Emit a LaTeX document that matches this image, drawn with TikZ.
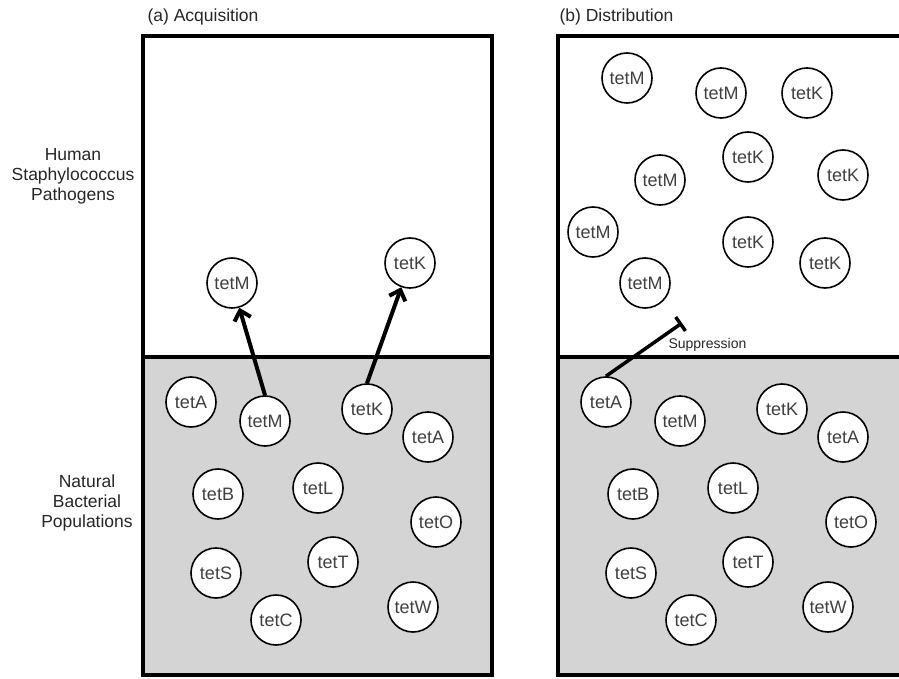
\documentclass[tikz,border=0pt]{standalone}
\usepackage{fontspec}
\setmainfont{Liberation Sans}
\usetikzlibrary{arrows.meta}
\definecolor{soilgray}{RGB}{212,212,212}
\definecolor{genetext}{RGB}{64,64,64}
\tikzset{
  gene/.style = {circle, draw, line width=1.6pt, fill=white, minimum size=50pt,
    inner sep=0pt, text=genetext, font=\fontsize{18}{20}\selectfont},
  side/.style = {align=center, text=black!85, font=\fontsize{17.5}{20}\selectfont},
  transfer/.style = {line width=4pt, -{Straight Barb[length=9pt,width=17pt]}}
}
% one panel: white pathogen half over the grey environmental half
\newcommand{\panel}{\fill[soilgray] (143,357) rectangle (492,675);
\draw[line width=3.5pt] (143,36) rectangle (492,675);
\draw[line width=3.5pt] (143,357) -- (492,357);}
% resistance genes found in the natural populations
\newcommand{\wildgenes}{
\node[gene] (tetA1) at (191,402) {tetA};
\node[gene] (tetM) at (265,421) {tetM};
\node[gene] (tetK) at (367,409) {tetK};
\node[gene] (tetA2) at (428,437) {tetA};
\node[gene] (tetB) at (218,494) {tetB};
\node[gene] (tetL) at (318,488) {tetL};
\node[gene] (tetO) at (436,522) {tetO};
\node[gene] (tetS) at (216,573) {tetS};
\node[gene] (tetT) at (333,562) {tetT};
\node[gene] (tetC) at (276,620) {tetC};
\node[gene] (tetW) at (413,607) {tetW};}

\begin{document}
\begin{tikzpicture}[x=1pt, y=-1pt]
\useasboundingbox (0,0) rectangle (899,679);
\clip (0,0) rectangle (899,679);
\node[side] (human) at (73,176) {Human\\Staphylococcus\\Pathogens};
\node[side] (natural) at (87,503) {Natural\\Bacterial\\Populations};
\begin{scope}[name prefix = a-]
\panel
\node[side, anchor=west] (title) at (144,17) {(a) Acquisition};
\wildgenes
\node[gene] (upM) at (232,283) {tetM};
\node[gene] (upK) at (410,263) {tetK};
\draw[transfer] (tetM.north) -- (upM);
\draw[transfer] (tetK.north) -- (upK);
\end{scope}
\begin{scope}[xshift = 415pt, name prefix = b-]
\panel
\node[side, anchor=west] (title) at (141,17) {(b) Distribution};
\wildgenes
\end{scope}
% spread of tetM and tetK among the pathogens
\begin{scope}[name prefix = b-]
\node[gene] (upM1) at (627,78) {tetM};
\node[gene] (upM2) at (721,93) {tetM};
\node[gene] (upK1) at (807,93) {tetK};
\node[gene] (upK2) at (748,157) {tetK};
\node[gene] (upM3) at (660,180) {tetM};
\node[gene] (upK3) at (843,175) {tetK};
\node[gene] (upM4) at (593,232) {tetM};
\node[gene] (upK4) at (748,242) {tetK};
\node[gene] (upK5) at (825,263) {tetK};
\node[gene] (upM5) at (645,283) {tetM};
\coordinate (block) at (682,323);
\draw[line width=3.5pt, -{Bar[width=17pt]}] (tetA1.north) -- (block);
\node[text=black!85, font=\fontsize{14}{16}\selectfont, anchor=west] (supp) at (665,345) {Suppression};
\end{scope}
\end{tikzpicture}
\end{document}
